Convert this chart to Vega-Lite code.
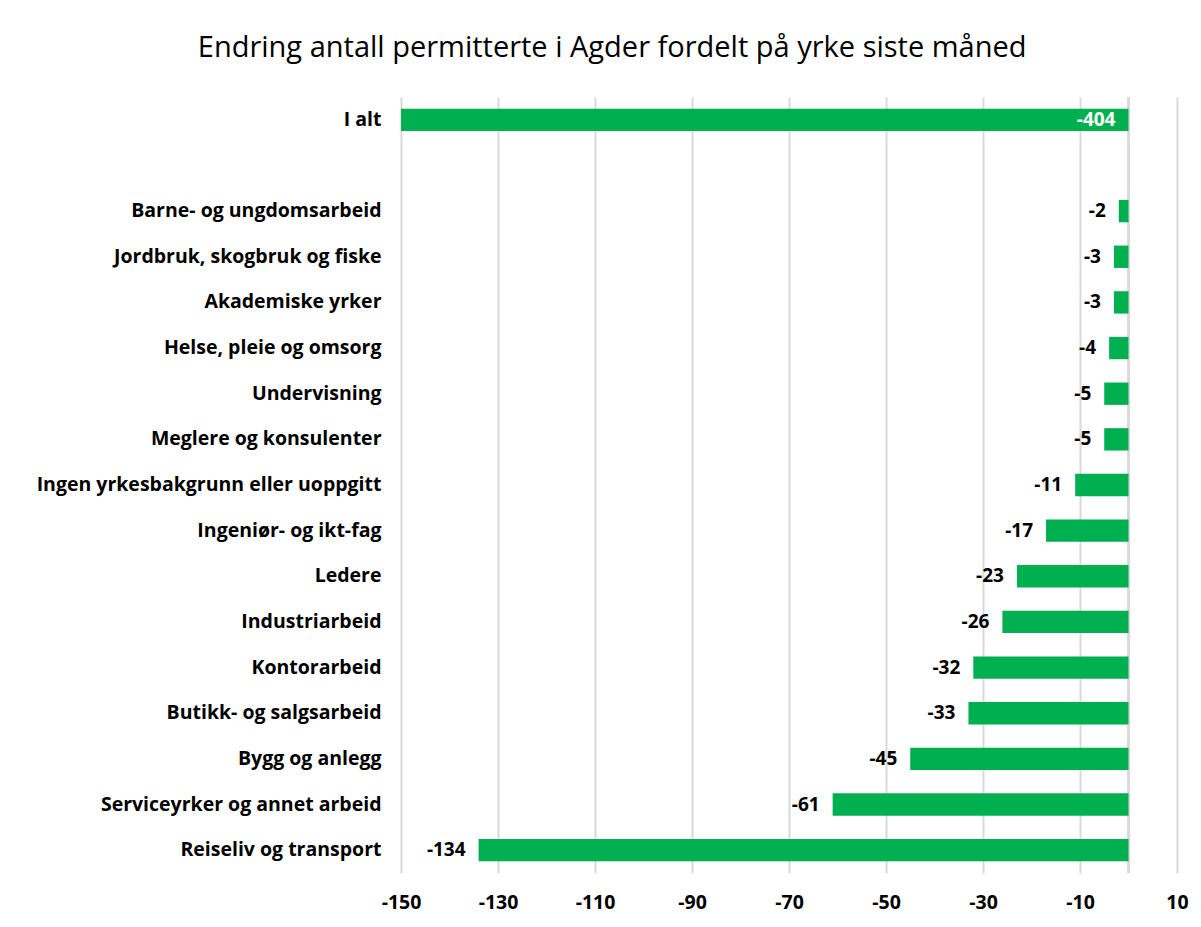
{
  "$schema": "https://vega.github.io/schema/vega-lite/v6.json",
  "width": 776,
  "height": 776,
  "autosize": {"type": "none"},
  "padding": {"left": 401, "top": 97, "right": 24, "bottom": 54},
  "background": "white",
  "title": {
    "text": "Endring antall permitterte i Agder fordelt på yrke siste måned",
    "font": "Open Sans",
    "fontSize": 29,
    "fontWeight": "normal",
    "color": "#000000",
    "anchor": "middle",
    "frame": "bounds",
    "offset": 33
  },
  "config": {
    "view": {"stroke": null},
    "font": "Open Sans"
  },
  "data": {
    "values": [
      {"yrke": "I alt", "endring": -404},
      {"yrke": "Barne- og ungdomsarbeid", "endring": -2},
      {"yrke": "Jordbruk, skogbruk og fiske", "endring": -3},
      {"yrke": "Akademiske yrker", "endring": -3},
      {"yrke": "Helse, pleie og omsorg", "endring": -4},
      {"yrke": "Undervisning", "endring": -5},
      {"yrke": "Meglere og konsulenter", "endring": -5},
      {"yrke": "Ingen yrkesbakgrunn eller uoppgitt", "endring": -11},
      {"yrke": "Ingeniør- og ikt-fag", "endring": -17},
      {"yrke": "Ledere", "endring": -23},
      {"yrke": "Industriarbeid", "endring": -26},
      {"yrke": "Kontorarbeid", "endring": -32},
      {"yrke": "Butikk- og salgsarbeid", "endring": -33},
      {"yrke": "Bygg og anlegg", "endring": -45},
      {"yrke": "Serviceyrker og annet arbeid", "endring": -61},
      {"yrke": "Reiseliv og transport", "endring": -134}
    ]
  },
  "encoding": {
    "y": {
      "field": "yrke",
      "type": "nominal",
      "sort": null,
      "title": null,
      "scale": {
        "domain": ["I alt", " ", "Barne- og ungdomsarbeid", "Jordbruk, skogbruk og fiske", "Akademiske yrker", "Helse, pleie og omsorg", "Undervisning", "Meglere og konsulenter", "Ingen yrkesbakgrunn eller uoppgitt", "Ingeniør- og ikt-fag", "Ledere", "Industriarbeid", "Kontorarbeid", "Butikk- og salgsarbeid", "Bygg og anlegg", "Serviceyrker og annet arbeid", "Reiseliv og transport"],
        "paddingInner": 0.51,
        "paddingOuter": 0.255
      },
      "axis": {
        "domain": false,
        "ticks": false,
        "labelPadding": 20,
        "labelLimit": 0,
        "labelFont": "Open Sans",
        "labelFontSize": 19.5,
        "labelFontWeight": "bold",
        "labelColor": "#000000",
        "grid": false
      }
    }
  },
  "layer": [
    {
      "mark": {"type": "rule", "color": "#d9d9d9", "strokeWidth": 2},
      "encoding": {"x": {"datum": 0, "type": "quantitative"}, "y": null}
    },
    {
      "mark": {"type": "bar", "color": "#00b050"},
      "encoding": {
        "x": {
          "field": "endring",
          "type": "quantitative",
          "title": null,
          "scale": {"domain": [-150, 10], "clamp": true, "nice": false, "zero": false},
          "axis": {
            "values": [-150, -130, -110, -90, -70, -50, -30, -10, 10],
            "labelExpr": "replace(datum.label, '\u2212', '-')",
            "domain": false,
            "ticks": false,
            "grid": true,
            "gridColor": "#d9d9d9",
            "gridWidth": 2,
            "labelFont": "Open Sans",
            "labelFontSize": 19.5,
            "labelFontWeight": "bold",
            "labelColor": "#000000",
            "labelPadding": 20,
            "labelFlush": false
          }
        }
      }
    },
    {
      "transform": [{"filter": "datum.yrke !== 'I alt'"}],
      "mark": {"type": "text", "align": "right", "baseline": "middle", "dx": -13, "fontSize": 19, "fontWeight": "bold", "color": "#000000", "font": "Open Sans"},
      "encoding": {
        "x": {"field": "endring", "type": "quantitative"},
        "text": {"field": "endring", "type": "nominal"}
      }
    },
    {
      "transform": [{"filter": "datum.yrke === 'I alt'"}],
      "mark": {"type": "text", "align": "right", "baseline": "middle", "dx": -13, "fontSize": 19, "fontWeight": "bold", "color": "#ffffff", "font": "Open Sans"},
      "encoding": {
        "x": {"datum": 0, "type": "quantitative"},
        "text": {"field": "endring", "type": "nominal"}
      }
    }
  ]
}
